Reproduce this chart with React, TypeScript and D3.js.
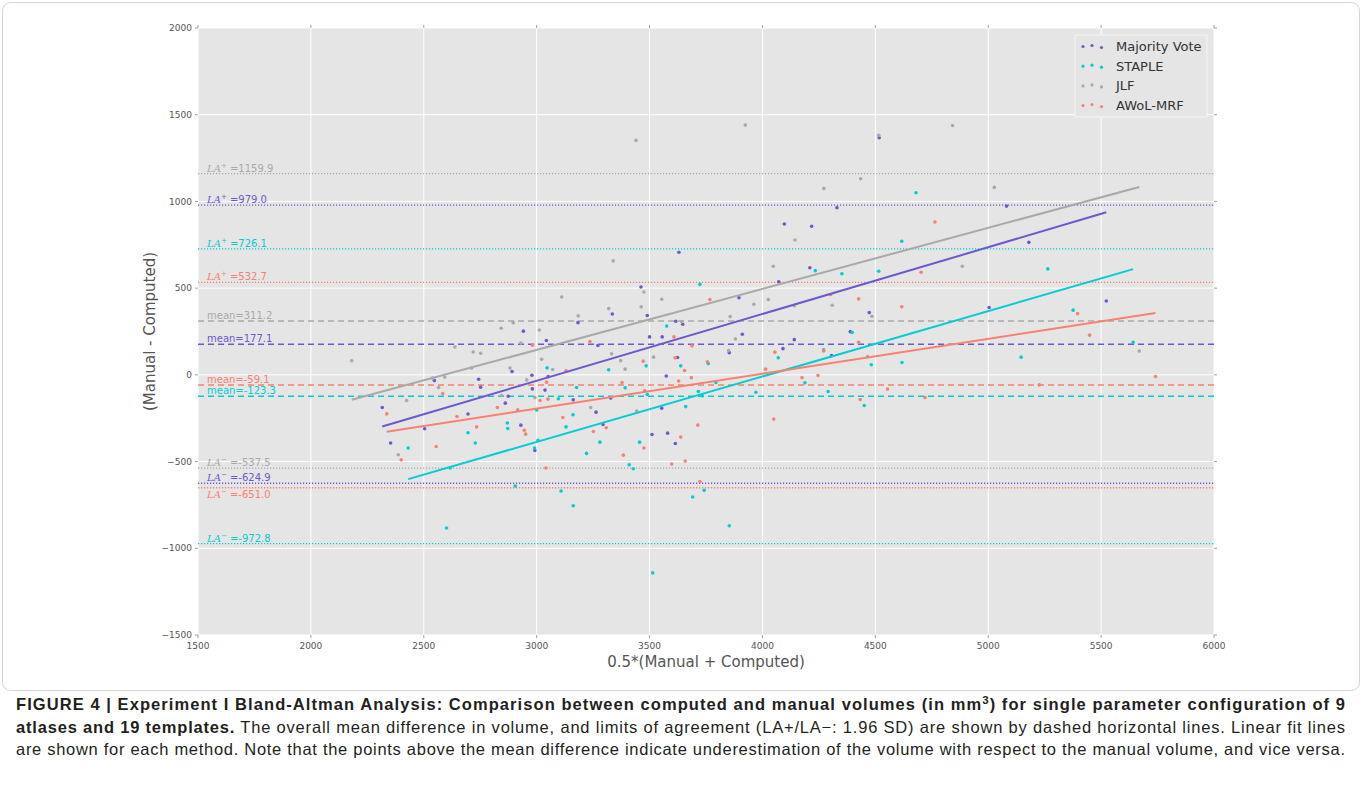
import React from "react";
import * as d3 from "d3";

const W = 1362;
const H = 792;

// Series names and colours (legend order)
const methods = ["Majority Vote", "STAPLE", "JLF", "AWoL-MRF"];
const colors = ["#6A5ACD", "#00CED1", "#A9A9A9", "#FA8072"];

// [mean volume, difference] pairs for each method
const majorityVote: [number, number][] = [
  [2316, -188], [2353, -393], [2504, -311], [2547, -33], [2696, -226], [2743, -25],
  [2752, -71], [2861, -163], [2874, -123], [2891, 19], [2930, -290], [2941, 252],
  [2979, -2], [2981, -81], [2992, -436], [3037, -88], [3043, 198], [3051, -10],
  [3162, -144], [3183, 301], [3263, -215], [3271, 169], [3294, -286], [3335, 351],
  [3328, -134], [3462, 507], [3490, 342], [3500, 219], [3511, -344], [3554, -192],
  [3556, 219], [3574, -7], [3580, -336], [3614, -396], [3624, 100], [3616, 309],
  [3647, 292], [3630, 707], [4517, 1367], [4330, 964], [4097, 870], [4218, 857],
  [4210, 618], [4072, 537], [3896, 445], [3911, 234], [4141, 203], [4091, 151],
  [3853, 128], [4389, 249], [4473, 359], [4306, 111], [5081, 973], [5180, 764],
  [5004, 388], [5523, 426],
];

const staple: [number, number][] = [
  [2431, -422], [2617, -537], [2601, -883], [2696, -334], [2728, -393], [2870, -278],
  [2872, -309], [2905, -641], [2991, -422], [3000, -202], [3006, -378], [3046, 40],
  [3096, -138], [3108, -670], [3130, -300], [3161, -230], [3162, -755], [3177, -73],
  [3221, -453], [3280, -388], [3319, 29], [3392, -75], [3410, -518], [3428, -541],
  [3456, -388], [3485, 52], [3490, -113], [3514, -1142], [3576, 281], [3638, 52],
  [3660, -183], [3691, -704], [3742, -666], [3853, -870], [4680, 1050], [4617, 770],
  [4234, 601], [4352, 583], [4515, 597], [3723, 522], [4398, 244], [4271, 144],
  [4070, 98], [3760, 65], [4482, 58], [4618, 71], [4188, -46], [3794, -44],
  [3716, -96], [3733, -121], [3971, -100], [4291, -96], [4451, -177], [5264, 611],
  [5376, 373], [5146, 102], [5642, 188],
];

const jlf: [number, number][] = [
  [2181, 81], [2387, -461], [2424, -148], [2539, -19], [2566, -73], [2593, -13],
  [2638, 161], [2712, 39], [2719, 132], [2752, 125], [2843, 269], [2845, -119],
  [2882, 39], [2896, 301], [2930, 183], [2956, -29], [2992, -131], [3012, 259],
  [3022, 90], [3071, 31], [3111, 449], [3184, 340], [3239, -188], [3319, 382],
  [3332, 121], [3372, 82], [3392, 33], [3443, -209], [3463, 392], [3475, 478],
  [3518, 102], [3554, 436], [3339, 657], [3440, 1352], [3642, 307], [3924, 1440],
  [4515, 1381], [4842, 1438], [4435, 1131], [4272, 1075], [4144, 778], [4048, 626],
  [3962, 407], [4026, 434], [4141, 399], [4309, 401], [3857, 336], [3880, 207],
  [3850, 140], [4485, 338], [4466, 105], [4885, 626], [5027, 1081], [5669, 137],
];

const awolMrf: [number, number][] = [
  [2336, -225], [2400, -490], [2555, -413], [2584, -108], [2647, -240], [2734, -300],
  [2826, -188], [2916, -202], [2945, -319], [2951, -342], [2982, 171], [3015, -148],
  [3041, -537], [3044, -42], [3050, -140], [3116, -246], [3130, 23], [3236, 192],
  [3251, -327], [3308, -305], [3378, -44], [3384, -463], [3472, 79], [3475, -422],
  [3478, -92], [3598, -514], [3608, 219], [3613, 98], [3629, -35], [3638, -359],
  [3655, 25], [3658, -497], [3714, -290], [3723, -615], [4050, -255], [4764, 881],
  [4703, 592], [4617, 392], [4426, 438], [4302, 463], [3767, 434], [3688, 167],
  [4055, 131], [4426, 188], [4271, 138], [3756, 75], [3685, -16], [4014, 33],
  [4175, -16], [4246, -4], [4554, -82], [4720, -131], [4433, -142], [5396, 353],
  [5449, 229], [5226, -58], [5741, -10],
];

const seriesPoints = [majorityVote, staple, jlf, awolMrf];

// Bland-Altman statistics per method (same order as `methods`)
const meanDiff = [177.1, -123.3, 311.2, -59.1];
const laUpper = [979.0, 726.1, 1159.9, 532.7];
const laLower = [-624.9, -972.8, -537.5, -651.0];

// Linear fit of difference against mean, per method
const fitSlope = [0.3852, 0.377, 0.3517, 0.201];
const fitIntercept = [-1190, -1517.5, -911, -797.5];

const xTicks = [1500, 2000, 2500, 3000, 3500, 4000, 4500, 5000, 5500, 6000];
const yTicks = [-1500, -1000, -500, 0, 500, 1000, 1500, 2000];

const plot = { left: 198, right: 1214, top: 28, bottom: 635 };
const tickFont = "'DejaVu Sans', sans-serif";
const captionFont = "'Liberation Sans', Arial, sans-serif";

// lower-limit labels that sit beneath their line so they don't collide
const lowerLabelBelow = [false, false, false, true];

function fmtTick(v: number) {
  return v < 0 ? "\u2212" + Math.abs(v) : String(v);
}

export default function App() {
  const x = d3.scaleLinear().domain([1500, 6000]).range([plot.left, plot.right]);
  const y = d3.scaleLinear().domain([-1500, 2000]).range([plot.bottom, plot.top]);
  const line = d3
    .line<[number, number]>()
    .x((d) => x(d[0]))
    .y((d) => y(d[1]));

  const legendDy = [0, -1, 1];

  const laLabel = (sign: "+" | "\u2212", value: number, color: string, key: string, below = false) => (
    <text key={key} x={207} y={y(value) + (below ? 10 : -2)} fill={color} fontSize={10} fontFamily={tickFont}>
      <tspan fontFamily="'DejaVu Serif', serif" fontStyle="italic">LA</tspan>
      <tspan fontSize={7} dy={-4}>{sign}</tspan>
      <tspan dy={4}>{" =" + value.toFixed(1)}</tspan>
    </text>
  );

  return (
    <div style={{ position: "absolute", left: 0, top: 0 }}>
      <svg width={W} height={H} style={{ display: "block", background: "#fff" }}>
        {/* figure frame */}
        <rect x={2.5} y={2.5} width={1357} height={688} rx={8} fill="none" stroke="#d4d4d4" />

        {/* plot background and grid */}
        <rect
          x={plot.left}
          y={plot.top}
          width={plot.right - plot.left}
          height={plot.bottom - plot.top}
          fill="#E5E5E5"
        />
        {xTicks.map((t) => (
          <line key={"gx" + t} x1={x(t)} x2={x(t)} y1={plot.top} y2={plot.bottom} stroke="#fff" strokeWidth={1} />
        ))}
        {yTicks.map((t) => (
          <line key={"gy" + t} x1={plot.left} x2={plot.right} y1={y(t)} y2={y(t)} stroke="#fff" strokeWidth={1} />
        ))}

        {/* tick marks */}
        {xTicks.map((t) => (
          <g key={"tx" + t} stroke="#888" strokeWidth={0.8}>
            <line x1={x(t)} x2={x(t)} y1={plot.bottom} y2={plot.bottom + 3} />
            <line x1={x(t)} x2={x(t)} y1={plot.top} y2={plot.top - 3} />
          </g>
        ))}
        {yTicks.map((t) => (
          <g key={"ty" + t} stroke="#888" strokeWidth={0.8}>
            <line x1={plot.left - 3} x2={plot.left} y1={y(t)} y2={y(t)} />
            <line x1={plot.right} x2={plot.right + 3} y1={y(t)} y2={y(t)} />
          </g>
        ))}

        {/* tick labels */}
        {xTicks.map((t) => (
          <text key={"lx" + t} x={x(t)} y={649} textAnchor="middle" fontSize={9} fontFamily={tickFont} fill="#555">
            {fmtTick(t)}
          </text>
        ))}
        {yTicks.map((t) => (
          <text
            key={"ly" + t}
            x={plot.left - 6}
            y={y(t)}
            dy="0.35em"
            textAnchor="end"
            fontSize={9}
            fontFamily={tickFont}
            fill="#555"
          >
            {fmtTick(t)}
          </text>
        ))}

        {/* axis titles */}
        <text x={(plot.left + plot.right) / 2} y={667} textAnchor="middle" fontSize={15} fontFamily={tickFont} fill="#555">
          0.5*(Manual + Computed)
        </text>
        <text
          transform={`translate(155,${(plot.top + plot.bottom) / 2}) rotate(-90)`}
          textAnchor="middle"
          fontSize={15}
          fontFamily={tickFont}
          fill="#555"
        >
          (Manual - Computed)
        </text>

        {/* limits of agreement (dotted) and mean differences (dashed) */}
        {methods.map((m, i) => (
          <g key={"h" + m}>
            <line x1={plot.left} x2={plot.right} y1={y(laUpper[i])} y2={y(laUpper[i])} stroke={colors[i]} strokeWidth={1.3} strokeDasharray="1.2 1.8" />
            <line x1={plot.left} x2={plot.right} y1={y(laLower[i])} y2={y(laLower[i])} stroke={colors[i]} strokeWidth={1.3} strokeDasharray="1.2 1.8" />
            <line x1={plot.left} x2={plot.right} y1={y(meanDiff[i])} y2={y(meanDiff[i])} stroke={colors[i]} strokeWidth={1.5} strokeDasharray="6 4" />
          </g>
        ))}

        {/* scatter points */}
        {seriesPoints.map((pts, i) => (
          <g key={"s" + i} fill={colors[i]}>
            {pts.map((p, j) => (
              <circle key={j} cx={x(p[0])} cy={y(p[1])} r={1.8} />
            ))}
          </g>
        ))}

        {/* linear fit lines over each method's range */}
        {seriesPoints.map((pts, i) => {
          const [x0, x1] = d3.extent(pts, (p) => p[0]) as [number, number];
          const seg: [number, number][] = [
            [x0, fitSlope[i] * x0 + fitIntercept[i]],
            [x1, fitSlope[i] * x1 + fitIntercept[i]],
          ];
          return <path key={"f" + i} d={line(seg) || ""} stroke={colors[i]} strokeWidth={2} fill="none" />;
        })}

        {/* statistic labels */}
        {methods.map((m, i) => (
          <g key={"lab" + m}>
            {laLabel("+", laUpper[i], colors[i], "u" + i)}
            {laLabel("\u2212", laLower[i], colors[i], "l" + i, lowerLabelBelow[i])}
            <text x={207} y={y(meanDiff[i]) - 2} fill={colors[i]} fontSize={10} fontFamily={tickFont}>
              {"mean=" + meanDiff[i].toFixed(1)}
            </text>
          </g>
        ))}

        {/* legend */}
        <g>
          <rect x={1075} y={35} width={132} height={82} fill="#E5E5E5" stroke="#f4f4f4" strokeWidth={1} />
          {methods.map((m, i) => {
            const ly = 46.5 + i * 19.7;
            return (
              <g key={"lg" + m}>
                {[1083, 1092, 1101.5].map((lx, k) => (
                  <circle key={k} cx={lx} cy={ly + legendDy[k]} r={1.6} fill={colors[i]} />
                ))}
                <text x={1116} y={ly} dy="0.35em" fontSize={13} fontFamily={tickFont} fill="#333">
                  {m}
                </text>
              </g>
            );
          })}
        </g>

        {/* caption */}
        <g fontFamily={captionFont} fontSize={16.5} fill="#231f20">
          <text x={16} y={710} textLength={1329} lengthAdjust="spacing" fontWeight="bold">
            FIGURE 4 | Experiment I Bland-Altman Analysis: Comparison between computed and manual volumes (in mm
            <tspan fontSize={11.5} dy={-6}>3</tspan>
            <tspan dy={6}>) for single parameter configuration of 9</tspan>
          </text>
          <text x={16} y={733} textLength={1329} lengthAdjust="spacing">
            <tspan fontWeight="bold">atlases and 19 templates.</tspan>
            <tspan>
              {" The overall mean difference in volume, and limits of agreement (LA+/LA\u2212: 1.96 SD) are shown by dashed horizontal lines. Linear fit lines"}
            </tspan>
          </text>
          <text x={16} y={755} textLength={1329} lengthAdjust="spacing">
            are shown for each method. Note that the points above the mean difference indicate underestimation of the volume with respect to the manual volume, and vice versa.
          </text>
        </g>
      </svg>
    </div>
  );
}
